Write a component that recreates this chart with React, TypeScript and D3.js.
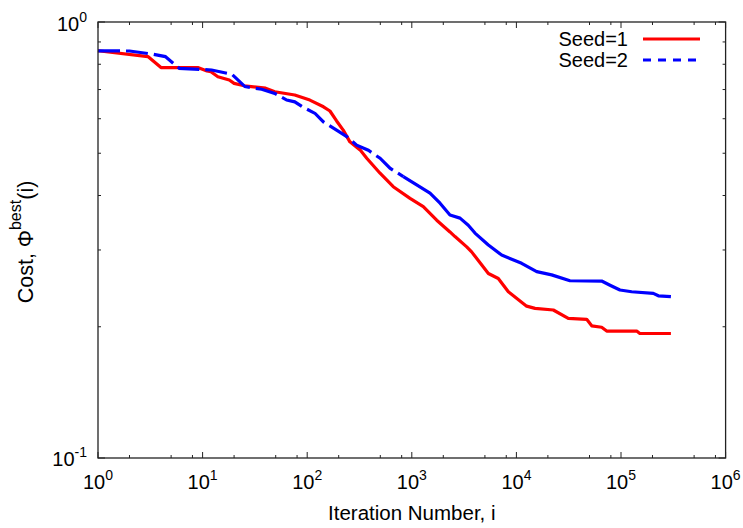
import React from "react";
import * as d3 from "d3";

// ---- data ----
const seed1Iter = [1, 3, 4, 9, 11, 12, 14, 18, 20, 25, 40, 49, 76, 106, 143, 165, 191, 221, 256, 320, 371, 497, 665, 962, 1288, 1730, 2317, 2588, 3350, 3733, 5395, 6714, 8375, 12530, 15070, 22540, 31330, 46990, 52480, 65310, 72950, 141300, 151400, 300000];
const seed1Cost = [0.859, 0.833, 0.786, 0.786, 0.772, 0.769, 0.749, 0.736, 0.723, 0.714, 0.705, 0.692, 0.68, 0.662, 0.639, 0.625, 0.593, 0.565, 0.531, 0.509, 0.487, 0.45, 0.419, 0.394, 0.377, 0.351, 0.33, 0.322, 0.305, 0.297, 0.265, 0.258, 0.2406, 0.223, 0.2204, 0.2185, 0.209, 0.208, 0.201, 0.1995, 0.1955, 0.1955, 0.193, 0.193];

const seed2Iter = [1, 2, 3.4, 4.4, 6, 12.2, 19, 25.4, 36.7, 49, 63.7, 76, 92, 119, 143, 191, 239, 297, 384, 497, 619, 830, 1114, 1493, 1862, 2317, 2891, 3467, 4018, 5395, 7228, 11220, 15630, 21730, 32510, 65310, 78520, 97720, 126500, 203700, 227500, 300000];
const seed2Cost = [0.859, 0.858, 0.843, 0.833, 0.783, 0.776, 0.759, 0.711, 0.701, 0.686, 0.662, 0.656, 0.637, 0.617, 0.59, 0.565, 0.546, 0.522, 0.508, 0.487, 0.462, 0.442, 0.423, 0.405, 0.384, 0.361, 0.355, 0.342, 0.328, 0.308, 0.292, 0.2796, 0.2675, 0.263, 0.255, 0.2546, 0.249, 0.2428, 0.2406, 0.2385, 0.2355, 0.2344];

const seriesNames = ["Seed=1", "Seed=2"];
const xMajorExps = [0, 1, 2, 3, 4, 5, 6];
const xMinorMult = [2, 5, 8];
const yMajorExps = [-1, 0];
const yMinorVals = [0.2, 0.3, 0.4, 0.5, 0.6, 0.7, 0.8, 0.9];
const xLabel = "Iteration Number, i";

const W = 743, H = 528;
const L = 98, R = 725.6, T = 22, B = 458;
const FONT = "'Liberation Sans', Arial, Helvetica, sans-serif";
const AX = "#222";

export default function App() {
  const x = d3.scaleLog().domain([1, 1e6]).range([L, R]);
  const y = d3.scaleLog().domain([0.1, 1]).range([B, T]);

  const s1 = seed1Iter.map((v, i) => [v, seed1Cost[i]] as [number, number]);
  const s2 = seed2Iter.map((v, i) => [v, seed2Cost[i]] as [number, number]);
  const split = seed2Iter.indexOf(830);
  const s2dash = s2.slice(0, split + 1);
  const s2solid = s2.slice(split);

  const line = d3.line<[number, number]>().x(d => x(d[0])).y(d => y(d[1]));

  const xMinors: number[] = [];
  for (let e = 0; e < 6; e++) for (const m of xMinorMult) xMinors.push(m * Math.pow(10, e));

  return (
    <svg width={W} height={H} style={{ position: "absolute", left: 0, top: 0, background: "#fff" }} fontFamily={FONT}>
      <rect x={0} y={0} width={W} height={H} fill="#fff" />
      {/* ticks */}
      {xMajorExps.map(e => {
        const px = x(Math.pow(10, e));
        return (
          <g key={"xm" + e}>
            <line x1={px} x2={px} y1={B} y2={B - 6} stroke={AX} strokeWidth={1} />
            <line x1={px} x2={px} y1={T} y2={T + 6} stroke={AX} strokeWidth={1} />
            <text x={px} y={489} fontSize={20} textAnchor="middle" fill="#000">
              10<tspan fontSize={14} dy={-9}>{e}</tspan>
            </text>
          </g>
        );
      })}
      {xMinors.map((v, i) => (
        <g key={"xn" + i}>
          <line x1={x(v)} x2={x(v)} y1={B} y2={B - 3} stroke={AX} strokeWidth={1} />
          <line x1={x(v)} x2={x(v)} y1={T} y2={T + 3} stroke={AX} strokeWidth={1} />
        </g>
      ))}
      {yMajorExps.map(e => {
        const py = y(Math.pow(10, e));
        return (
          <g key={"ym" + e}>
            <line x1={L} x2={L + 7} y1={py} y2={py} stroke={AX} strokeWidth={1} />
            <line x1={R} x2={R - 7} y1={py} y2={py} stroke={AX} strokeWidth={1} />
            <text x={87} y={py + (e === 0 ? 9 : 8)} fontSize={20} textAnchor="end" fill="#000">
              10<tspan fontSize={14} dy={-9}>{e}</tspan>
            </text>
          </g>
        );
      })}
      {yMinorVals.map((v, i) => (
        <g key={"yn" + i}>
          <line x1={L} x2={L + 3} y1={y(v)} y2={y(v)} stroke={AX} strokeWidth={1} />
          <line x1={R} x2={R - 3} y1={y(v)} y2={y(v)} stroke={AX} strokeWidth={1} />
        </g>
      ))}
      {/* series */}
      <path d={line(s1) ?? ""} fill="none" stroke="#ff0000" strokeWidth={3.2} strokeLinejoin="round" />
      <path d={line(s2dash) ?? ""} fill="none" stroke="#0000ff" strokeWidth={3.2} strokeDasharray="22,6" />
      <path d={line(s2solid) ?? ""} fill="none" stroke="#0000ff" strokeWidth={3.2} strokeLinejoin="round" />
      {/* frame */}
      <rect x={L} y={T} width={R - L} height={B - T} fill="none" stroke={AX} strokeWidth={1.3} />
      {/* legend */}
      <text x={628} y={46} fontSize={20} textAnchor="end">{seriesNames[0]}</text>
      <line x1={643} x2={700} y1={39} y2={39} stroke="#ff0000" strokeWidth={3} />
      <text x={628} y={67} fontSize={20} textAnchor="end">{seriesNames[1]}</text>
      <line x1={643} x2={700} y1={60} y2={60} stroke="#0000ff" strokeWidth={3} strokeDasharray="8,7" />
      {/* axis labels */}
      <text x={(L + R) / 2} y={520} fontSize={20.5} textAnchor="middle">{xLabel}</text>
      <text transform={`translate(33,${(T + B) / 2 + 2}) rotate(-90)`} fontSize={21.5} textAnchor="middle">
        Cost, Φ<tspan fontSize={16} dy={-12}>best</tspan><tspan dy={12}>(i)</tspan>
      </text>
    </svg>
  );
}
